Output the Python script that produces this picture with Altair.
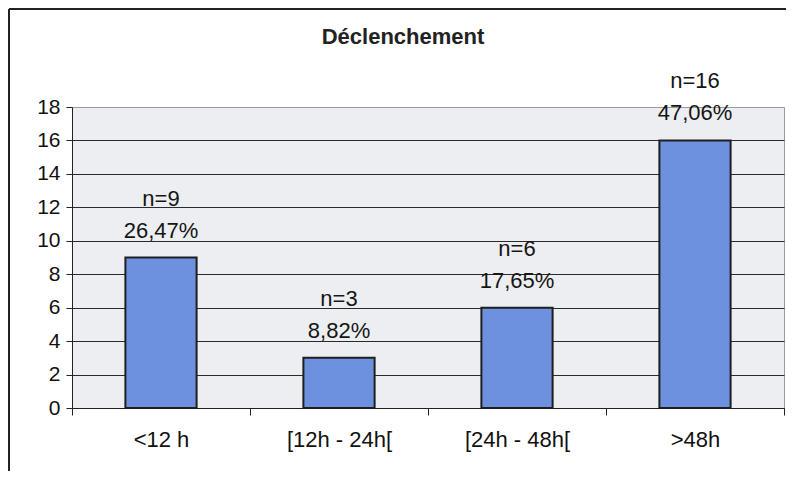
import altair as alt
import pandas as pd

categories = ["<12 h", "[12h - 24h[", "[24h - 48h[", ">48h"]
counts = [9, 3, 6, 16]
percents = ["26,47%", "8,82%", "17,65%", "47,06%"]
y_ticks = [0, 2, 4, 6, 8, 10, 12, 14, 16, 18]
title_text = "Déclenchement"

df = pd.DataFrame({
    "cat": categories,
    "n": counts,
    "label": [f"n={c}\n{p}" for c, p in zip(counts, percents)],
})

FONT = "Liberation Sans"
W, H = 712, 301

x_enc = alt.X(
    "cat:N", sort=categories, title=None,
    scale=alt.Scale(paddingInner=0, paddingOuter=0),
    axis=alt.Axis(
        tickBand="extent", labelAngle=0, labelFontSize=22,
        labelFont=FONT, labelColor="#111111", tickSize=7, tickColor="#222222",
        domainColor="#222222", labelPadding=14, grid=False,
    ),
)
y_enc = alt.Y(
    "n:Q", title=None,
    scale=alt.Scale(domain=[0, 18], nice=False),
    axis=alt.Axis(
        values=y_ticks, labelOverlap=False, labelFontSize=21, labelFont=FONT,
        labelColor="#111111",
        tickSize=6, tickColor="#222222", domainColor="#222222", labelPadding=6,
        grid=True,
        gridColor=alt.condition("datum.value == 18", alt.value("#9a9a9a"), alt.value("#2a2a2a")),
        gridWidth=1,
    ),
)

bars = alt.Chart(df).mark_bar(
    width=alt.RelativeBandSize(0.4), color="#6d91df", stroke="#1e1e1e", strokeWidth=2
).encode(x=x_enc, y=y_enc)

labels = alt.Chart(df).mark_text(
    baseline="bottom", align="center", dy=-47, fontSize=22, font=FONT,
    color="#151515", lineBreak="\n", lineHeight=32,
).encode(x=x_enc, y=y_enc, text="label:N")

blank = alt.Data(values=[{"a": 1}])
frame_left = alt.Chart(blank).mark_rule(color="#222222", strokeWidth=2).encode(
    x=alt.value(-63), y=alt.value(-98), y2=alt.value(H + 70)
)
frame_top = alt.Chart(blank).mark_rule(color="#222222", strokeWidth=2).encode(
    x=alt.value(-63), x2=alt.value(W + 10), y=alt.value(-98)
)
title = alt.Chart(blank).mark_text(
    fontSize=22, fontWeight="bold", font=FONT, color="#222222", baseline="middle"
).encode(
    x=alt.value(331), y=alt.value(-70), text=alt.value(title_text)
)

chart = alt.layer(bars, labels, frame_left, frame_top, title).properties(
    width=W, height=H,
    padding={"left": 64, "top": 99, "right": 2, "bottom": 63},
    autosize="none",
).configure(
    background="white",
    view=alt.ViewConfig(fill="#eceef1", stroke="#9a9a9a", strokeWidth=1),
)

chart.save("out.html", embed_options={"renderer": "svg", "actions": False})
